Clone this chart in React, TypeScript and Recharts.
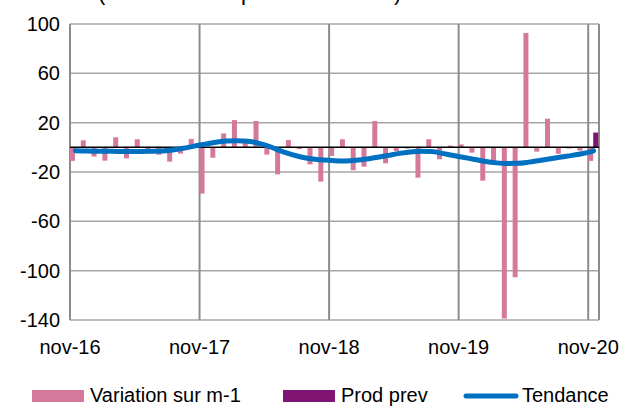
import { ComposedChart, Bar, Line, XAxis, YAxis, CartesianGrid, ReferenceLine } from 'recharts';

// monthly data, nov-16 .. nov-20 (49 months)
const tickLabels = ['nov-16', 'nov-17', 'nov-18', 'nov-19', 'nov-20'];
const yTicks = [100, 60, 20, -20, -60, -100, -140];

const variation = [
  -11, 5.7, -7.5, -10.8, 8.1, -9, 6.5, -2, -6, -11.6, -5.1, 6.8,
  -37.5, -8.4, 11.3, 22.1, 4, 21.3, -5.9, -21.9, 5.9, -1.4, -13.8, -27.8,
  -7, 6.5, -18.6, -15.7, 21.3, -13, -3, -1, -24.6, 6.5, -9.7, 1.4,
  2.4, -4.3, -27, -11.5, -138.7, -105.3, 92.8, -3.5, 23.2, -5.2, -1, -2.7,
  -11,
];
const prodPrev = [...Array(48).fill(null), 12];
const tendance = [
  -2.7, -3, -3.1, -3.2, -3.3, -3.3, -3.3, -3.2, -3, -2.2, -0.8, 1,
  2.6, 4.2, 5.1, 5.4, 4.9, 3.2, 0.5, -2.8, -5.7, -8, -9.5, -10.3,
  -10.8, -11, -10.5, -9.5, -8.1, -6.5, -4.9, -3.8, -3.1, -3.3, -4.9, -6.6,
  -8.2, -9.8, -11.5, -12.6, -13.1, -13, -12, -10.6, -9.2, -7.8, -6.5, -5,
  -2.8,
];

const PINK = '#D5799C';
const PURPLE = '#7F1473';
const BLUE = '#0070C0';
const FONT = '"Liberation Sans", Arial, sans-serif';

// x = month index + 0.5 so bars sit inside the month band, gridlines on band edges
const data = variation.map((v, i) => ({ x: i + 0.5, variation: v, prod: prodPrev[i], trend: tendance[i] }));

export default function App() {
  return (
    <div style={{ position: 'absolute', left: 0, top: 0, width: 626, height: 406, overflow: 'hidden', fontFamily: FONT, background: '#fff' }}>
      {/* title line is cropped at the top in the source image */}
      <svg width={626} height={406} style={{ position: 'absolute', left: 0, top: 0 }}>
        <text x={98} y={0} fontSize={22} fontFamily={FONT} fill="#000">(en milliers de pièces vendues)</text>
      </svg>
      <div style={{ position: 'absolute', left: 0, top: 0 }}>
        <ComposedChart width={626} height={406} data={data} margin={{ top: 24, right: 27, bottom: 46, left: 0 }}
          barCategoryGap={0} barGap={0}>
          <CartesianGrid vertical={false} stroke="#A6A6A6" strokeWidth={1.5} />
          <CartesianGrid horizontal={false} stroke="#8C8C8C" strokeWidth={2} />
          <XAxis type="number" dataKey="x" domain={[0, 49]} ticks={[0, 12, 24, 36, 48]} allowDataOverflow
            tickFormatter={(v: number) => tickLabels[v / 12]} axisLine={false} tickLine={false} tickSize={0} tickMargin={20}
            height={40} tick={{ fontSize: 20, fill: '#000', fontFamily: FONT }} interval={0} />
          <YAxis type="number" domain={[-140, 100]} ticks={yTicks} allowDataOverflow axisLine={false} tickLine={false}
            tickSize={0} tickMargin={10} width={70} tick={{ fontSize: 20, fill: '#000', fontFamily: FONT }} interval={0} />
          <Bar dataKey="variation" fill={PINK} isAnimationActive={false} />
          <Bar dataKey="prod" fill={PURPLE} isAnimationActive={false} />
          <ReferenceLine y={0} stroke="#000" strokeWidth={1.5} />
          <Line dataKey="trend" type="monotone" stroke={BLUE} strokeWidth={5} strokeLinecap="round" dot={false}
            activeDot={false} isAnimationActive={false} />
        </ComposedChart>
      </div>
      <svg width={626} height={406} style={{ position: 'absolute', left: 0, top: 0 }} fontFamily={FONT}>
        <rect x={32} y={390} width={52} height={12} fill={PINK} />
        <text x={90} y={402} fontSize={20} fill="#000">Variation sur m-1</text>
        <rect x={283} y={390} width={52} height={12} fill={PURPLE} />
        <text x={341} y={402} fontSize={20} fill="#000">Prod prev</text>
        <line x1={466} y1={396} x2={516} y2={396} stroke={BLUE} strokeWidth={5} strokeLinecap="round" />
        <text x={522} y={402} fontSize={20} fill="#000">Tendance</text>
      </svg>
    </div>
  );
}
